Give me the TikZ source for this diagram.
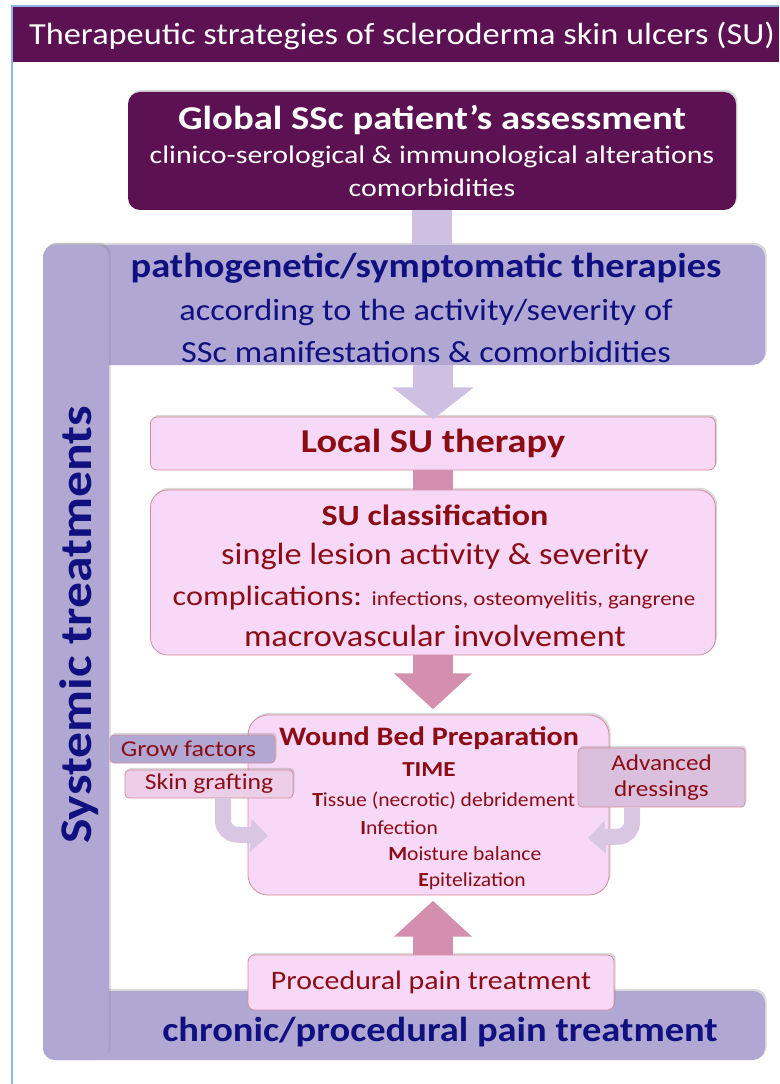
\documentclass[tikz,border=0pt]{standalone}
\usepackage{graphicx}
\usepackage{fontspec}
\setmainfont{Carlito}
\usetikzlibrary{arrows.meta,shadows}

\definecolor{titlepurple}{RGB}{92,17,82}
\definecolor{frameblue}{RGB}{141,179,226}
\definecolor{bandlav}{RGB}{176,168,210}
\definecolor{linklav}{RGB}{206,192,226}
\definecolor{boxpink}{RGB}{247,217,247}
\definecolor{edgepink}{RGB}{214,140,155}
\definecolor{arrowpink}{RGB}{212,142,174}
\definecolor{textred}{RGB}{140,12,22}
\definecolor{textnavy}{RGB}{16,16,128}
\definecolor{bendlav}{RGB}{216,198,226}
\definecolor{skinpink}{RGB}{236,206,232}
\definecolor{dresspink}{RGB}{219,192,222}

% horizontal stretch of a text line
\newcommand{\hwide}[2]{\scalebox{#1}[1]{#2}}

\tikzset{
  boxshadow/.style={drop shadow={shadow xshift=1.2pt,shadow yshift=1.6pt,opacity=0.3}},
  bandbox/.style={fill=bandlav,rounded corners=9pt,boxshadow,inner sep=0pt},
  pinkbox/.style={draw=edgepink,fill=boxpink,line width=0.6pt,rounded corners=5pt,boxshadow,
    text=textred,align=center,inner sep=0pt},
  sidebox/.style={pinkbox,rounded corners=3pt},
  redtext/.style={text=textred,inner sep=0pt},
  navytext/.style={text=textnavy,inner sep=0pt,align=center},
  lavlink/.style={draw=linklav,line width=30pt},
  lavarrow/.style={lavlink,-{Triangle[width=60pt,length=24pt]}},
  pinklink/.style={draw=arrowpink,line width=30pt},
  pinkarrow/.style={pinklink,-{Triangle[width=57pt,length=27pt]}},
  bendarrow/.style={draw=bendlav,line width=12pt,rounded corners=10pt,-{Triangle[width=24pt,length=13pt]}}
}

\begin{document}
\begin{tikzpicture}[x=0.75pt,y=0.75pt,yscale=-1,xscale=1]
	\useasboundingbox (0,0) rectangle (779,1084);
	
	%Shape: Title bar
	\fill [titlepurple] (12,6) rectangle (779,62);
	\draw [frameblue,line width=0.8pt] (779,6) -- (12,6) -- (12,1084);
	% Text Node
	\node (title) [text=white,inner sep=0pt,font=\fontsize{23}{26}\selectfont] at (402,36) {\hwide{1.12}{Therapeutic strategies of scleroderma skin ulcers (SU)}};
	
	%Shape: Systemic bands
	\node (pband) [bandbox,minimum width=541.5pt,minimum height=90pt] at (404,305) {};
	\node (cband) [bandbox,minimum width=541.5pt,minimum height=51.75pt] at (404,1025.5) {};
	\node (sysband) [bandbox,minimum width=49.5pt,minimum height=611.25pt] at (76,652.5) {};
	% Text Node
	\node (systext) [navytext,rotate=90,font=\fontsize{34}{40}\bfseries\selectfont] at (79,625) {\hwide{1.14}{Systemic treatments}};
	\node (ptext) [navytext,font=\fontsize{23}{32}\selectfont] at (426,308) {{\fontsize{26}{32}\bfseries\selectfont\hwide{1.11}{pathogenetic/symptomatic therapies}}\\\hwide{1.12}{according to the activity/severity of}\\\hwide{1.12}{SSc manifestations \& comorbidities}};
	\node (ctext) [navytext,font=\fontsize{26}{30}\bfseries\selectfont] at (440,1032) {\hwide{1.11}{chronic/procedural pain treatment}};
	
	%Shape: Global assessment
	\node (glob) [fill=titlepurple,rounded corners=9pt,boxshadow,text=white,align=center,inner sep=0pt,
	  minimum width=456pt,minimum height=88.5pt,font=\fontsize{19}{25}\selectfont] at (432,151)
	  {{\fontsize{25}{29}\bfseries\selectfont\hwide{1.16}{Global SSc patient’s assessment}}\\\hwide{1.18}{clinico-serological \& immunological alterations}\\\hwide{1.18}{comorbidities}};
	
	%Straight Lines: links and arrows
	\draw [lavlink] (glob.south) -- (glob.south |- pband.north);
	\node (local) [pinkbox,minimum width=423.75pt,minimum height=39.75pt,font=\fontsize{25}{30}\bfseries\selectfont] at (433,443.5) {\hwide{1.15}{Local SU therapy}};
	\draw [lavarrow] (local.north |- pband.south) -- ([yshift=2pt]local.north);
	\node (sucls) [pinkbox,rounded corners=13pt,minimum width=423.75pt,minimum height=123.75pt] at (433,572.5) {};
	\draw [pinklink] (local.south) -- (sucls.north);
	% Text Node
	\node (clshead) [redtext,font=\fontsize{22}{24}\bfseries\selectfont] at (435,515) {\hwide{1.16}{SU classification}};
	\node (clsact) [redtext,font=\fontsize{23}{26}\selectfont] at (435,556) {\hwide{1.12}{single lesion activity \& severity}};
	\node (clscomp) [redtext,font=\fontsize{21}{24}\selectfont] at (434,598) {\hwide{1.15}{complications: {\fontsize{15}{18}\selectfont infections, osteomyelitis, gangrene}}};
	\node (clsmacro) [redtext,font=\fontsize{23}{26}\selectfont] at (435,636) {\hwide{1.12}{macrovascular involvement}};
	
	%Shape: Wound bed preparation
	\node (wbp) [pinkbox,rounded corners=15pt,minimum width=270.75pt,minimum height=135pt] at (428.5,805) {};
	\draw [pinkarrow] (sucls.south) -- ([yshift=-4pt]sucls.south |- wbp.north);
	% Text Node
	\node (wbphead) [redtext,font=\fontsize{20}{24}\bfseries\selectfont] at (429,738) {\hwide{1.13}{Wound Bed Preparation}};
	\node (wbptime) [redtext,font=\fontsize{16}{20}\bfseries\selectfont] at (429,770) {\hwide{1.18}{TIME}};
	\node (wbpt) [redtext,anchor=west,font=\fontsize{15}{18}\selectfont] at (312,801) {\hwide{1.08}{\textbf{T}issue (necrotic) debridement}};
	\node (wbpi) [redtext,anchor=west,font=\fontsize{15}{18}\selectfont] at (360,828) {\hwide{1.08}{\textbf{I}nfection}};
	\node (wbpm) [redtext,anchor=west,font=\fontsize{15}{18}\selectfont] at (388,854) {\hwide{1.08}{\textbf{M}oisture balance}};
	\node (wbpe) [redtext,anchor=west,font=\fontsize{15}{18}\selectfont] at (418,881) {\hwide{1.08}{\textbf{E}pitelization}};
	
	%Shape: side treatments
	\node (grow) [sidebox,fill=bandlav,minimum width=123.75pt,minimum height=21pt,font=\fontsize{17}{20}\selectfont] at (192.5,749) {\hwide{1.15}{Grow factors}\hspace{6pt}};
	\node (skin) [sidebox,fill=skinpink,minimum width=126pt,minimum height=21pt,font=\fontsize{17}{20}\selectfont] at (209,784) {\hwide{1.13}{Skin grafting}};
	\node (adv) [sidebox,fill=dresspink,minimum width=125.25pt,minimum height=44.25pt,font=\fontsize{17}{20}\selectfont] at (661.5,777.5) {\hwide{1.11}{Advanced}\\\hwide{1.11}{dressings}};
	\coordinate (skinbend) at (223,834);
	\coordinate (skintip) at (268,836);
	\coordinate (advbend) at (632,836);
	\coordinate (advtip) at (588,838);
	\draw [bendarrow] (skin.south -| skinbend) -- (skinbend) -- (skintip);
	\draw [bendarrow] (adv.south -| advbend) -- (advbend) -- (advtip);
	
	%Shape: Procedural pain
	\node (proc) [pinkbox,minimum width=274.5pt,minimum height=41.25pt,font=\fontsize{20}{24}\selectfont] at (431,982.5) {\hwide{1.12}{Procedural pain treatment}};
	\draw [pinkarrow] (proc.north -| sucls.south) -- ([yshift=4pt]sucls.south |- wbp.south);
	
\end{tikzpicture}
\end{document}
